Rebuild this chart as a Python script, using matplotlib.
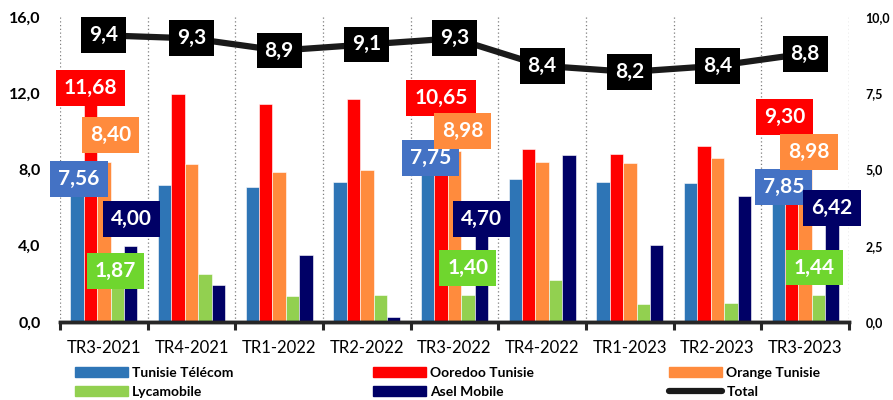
import numpy as np
import matplotlib.pyplot as plt
from matplotlib.lines import Line2D
from matplotlib.patches import Patch

# --- dati ---
periodi = ['TR3-2021', 'TR4-2021', 'TR1-2022', 'TR2-2022', 'TR3-2022',
           'TR4-2022', 'TR1-2023', 'TR2-2023', 'TR3-2023']
tunisie_telecom = [7.56, 7.19, 7.07, 7.35, 7.75, 7.50, 7.35, 7.29, 7.85]
ooredoo = [11.68, 11.96, 11.42, 11.70, 10.65, 9.09, 8.83, 9.23, 9.30]
orange = [8.40, 8.29, 7.89, 7.97, 8.98, 8.38, 8.34, 8.60, 8.98]
lycamobile = [1.87, 2.50, 1.38, 1.40, 1.40, 2.20, 0.96, 1.00, 1.44]
asel = [4.00, 1.94, 3.50, 0.25, 4.70, 8.78, 4.04, 6.59, 6.42]
totale = [9.4, 9.3, 8.9, 9.1, 9.3, 8.4, 8.2, 8.4, 8.8]
gruppi_etichettati = [0, 4, 8]

nomi = ['Tunisie Télécom', 'Ooredoo Tunisie', 'Orange Tunisie', 'Lycamobile', 'Asel Mobile']
serie = [tunisie_telecom, ooredoo, orange, lycamobile, asel]
colori_barre = ['#2E75B6', '#FF0000', '#FF8B3D', '#92D050', '#000066']
colori_box = ['#4472C4', '#FF0000', '#FF8B3D', '#6FD62E', '#000066']

# spostamento manuale delle etichette (pixel: dx, dy) per gruppo e serie
offset = {
    0: [(2, -1), (0, 11), (7, 27), (-2, 15), (1, 27)],
    4: [(3, 16), (0, 21), (8, 20), (0, 27), (0, 13)],
    8: [(5, -15), (-7, 28), (4, -1), (-4, 27), (0, -8)],
}

def virgola(v, dec):
    return f'{v:.{dec}f}'.replace('.', ',')

plt.rcParams['font.family'] = ['Lato', 'DejaVu Sans']

fig = plt.figure(figsize=(8.93, 4.0), dpi=100)
ax = fig.add_axes([0.0672, 0.195, 0.8835, 0.7625])
ax2 = ax.twinx()

x = np.arange(len(periodi))
w = 0.153
for i, (vals, col) in enumerate(zip(serie, colori_barre)):
    ax.bar(x + (i - 2) * w, vals, w, color=col, edgecolor='white', linewidth=0.4, zorder=2)

# linee verticali tratteggiate tra i gruppi
ax.vlines(np.arange(-0.5, len(periodi)), 0, 16, colors='#7f7f7f',
          linestyles=(0, (1, 2)), linewidth=0.9, zorder=1)

ax.set_xlim(-0.5, len(periodi) - 0.5)
ax.set_ylim(0, 16)
ax.set_yticks([0, 4, 8, 12, 16])
ax.set_yticklabels([virgola(v, 1) for v in [0, 4, 8, 12, 16]], fontweight='bold', fontsize=11.5)
ax.set_xticks(np.arange(-0.5, len(periodi)))
ax.set_xticklabels([])
ax.set_xticks(x, minor=True)
ax.set_xticklabels(periodi, minor=True, fontsize=12)
ax.tick_params(axis='x', which='major', length=6, width=2.2, color='#262626')
ax.tick_params(axis='x', which='minor', length=0, pad=13)
ax.tick_params(axis='y', length=0, pad=14)

ax2.plot(x, totale, color='#1a1a1a', linewidth=4.5, solid_capstyle='round', zorder=3)
ax2.set_ylim(0, 10)
ax2.set_yticks([0, 2.5, 5, 7.5, 10])
ax2.set_yticklabels([virgola(v, 1) for v in [0, 2.5, 5, 7.5, 10]], fontweight='bold', fontsize=9)
ax2.tick_params(axis='y', length=0, pad=12)

for a in (ax, ax2):
    for s in ['top', 'left', 'right']:
        a.spines[s].set_visible(False)
    a.spines['bottom'].set_linewidth(2.5)
    a.spines['bottom'].set_color('#262626')

# etichette del totale
for xi, v in zip(x, totale):
    ax2.annotate(virgola(v, 1), (xi, v), ha='center', va='center', color='white',
                 fontsize=15, fontweight='bold', zorder=5,
                 bbox=dict(boxstyle='square,pad=0.38', fc='black', ec='none'))

# etichette delle barre
for g in gruppi_etichettati:
    for i, vals in enumerate(serie):
        dx, dy = offset[g][i]
        ax2.annotate(virgola(vals[g], 2), (g + (i - 2) * w, vals[g]), xycoords=ax.transData,
                     xytext=(dx, dy), textcoords='offset pixels',
                     ha='center', va='center', color='white', fontsize=15, fontweight='bold',
                     zorder=6, bbox=dict(boxstyle='square,pad=0.38', fc=colori_box[i], ec='none'))

# legenda su tre colonne
maniglie = [Patch(color=c) for c in colori_barre] + \
    [Line2D([], [], color='#1a1a1a', linewidth=4.5, solid_capstyle='round')]
etichette = nomi + ['Total']
colonne = [(0, 3), (1, 4), (2, 5)]
pos_x = [78 / 893, 376 / 893, 672 / 893]
for (a, b), px in zip(colonne, pos_x):
    fig.legend([maniglie[a], maniglie[b]], [etichette[a], etichette[b]],
               loc='upper left', bbox_to_anchor=(px - 0.003, 0.082), frameon=False,
               prop={'weight': 'bold', 'size': 10}, handlelength=3.8,
               handleheight=0.7, handletextpad=0.3, labelspacing=0.5, borderpad=0,
               borderaxespad=0)

fig.savefig('out.png', dpi=100)
